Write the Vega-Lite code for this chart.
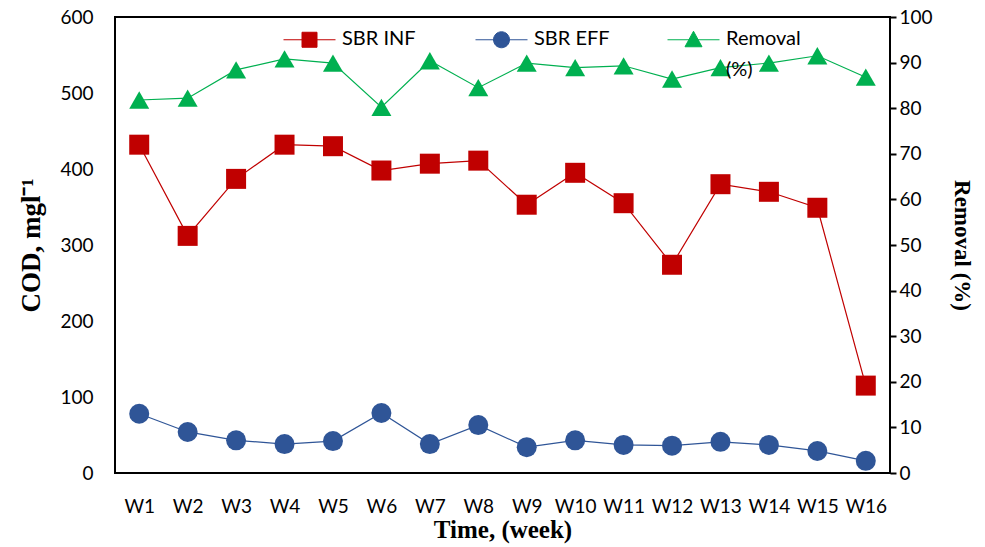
{
  "$schema": "https://vega.github.io/schema/vega-lite/v6.json",
  "width": 775,
  "height": 456,
  "autosize": "none",
  "padding": {"left": 115, "top": 17, "right": 95, "bottom": 74},
  "config": {
    "view": {"stroke": "black", "strokeWidth": 2},
    "font": "Lato",
    "axis": {"labelFont": "Lato", "labelFontSize": 19, "labelColor": "black", "titleFont": "Liberation Serif", "titleFontWeight": "bold", "titleFontSize": 25, "titleColor": "black", "grid": false}
  },
  "data": {
    "values": [
      {"week": "W1", "series": "SBR INF", "value": 432},
      {"week": "W2", "series": "SBR INF", "value": 312},
      {"week": "W3", "series": "SBR INF", "value": 387},
      {"week": "W4", "series": "SBR INF", "value": 432},
      {"week": "W5", "series": "SBR INF", "value": 430},
      {"week": "W6", "series": "SBR INF", "value": 398},
      {"week": "W7", "series": "SBR INF", "value": 407},
      {"week": "W8", "series": "SBR INF", "value": 411},
      {"week": "W9", "series": "SBR INF", "value": 353},
      {"week": "W10", "series": "SBR INF", "value": 395},
      {"week": "W11", "series": "SBR INF", "value": 355},
      {"week": "W12", "series": "SBR INF", "value": 274},
      {"week": "W13", "series": "SBR INF", "value": 380},
      {"week": "W14", "series": "SBR INF", "value": 370},
      {"week": "W15", "series": "SBR INF", "value": 349},
      {"week": "W16", "series": "SBR INF", "value": 115},
      {"week": "W1", "series": "SBR EFF", "value": 78},
      {"week": "W2", "series": "SBR EFF", "value": 54},
      {"week": "W3", "series": "SBR EFF", "value": 43},
      {"week": "W4", "series": "SBR EFF", "value": 38},
      {"week": "W5", "series": "SBR EFF", "value": 42},
      {"week": "W6", "series": "SBR EFF", "value": 79},
      {"week": "W7", "series": "SBR EFF", "value": 38},
      {"week": "W8", "series": "SBR EFF", "value": 63},
      {"week": "W9", "series": "SBR EFF", "value": 34},
      {"week": "W10", "series": "SBR EFF", "value": 43},
      {"week": "W11", "series": "SBR EFF", "value": 37},
      {"week": "W12", "series": "SBR EFF", "value": 36},
      {"week": "W13", "series": "SBR EFF", "value": 41},
      {"week": "W14", "series": "SBR EFF", "value": 37},
      {"week": "W15", "series": "SBR EFF", "value": 29},
      {"week": "W16", "series": "SBR EFF", "value": 16},
      {"week": "W1", "series": "Removal (%)", "value": 81.8},
      {"week": "W2", "series": "Removal (%)", "value": 82.2},
      {"week": "W3", "series": "Removal (%)", "value": 88.4},
      {"week": "W4", "series": "Removal (%)", "value": 90.8},
      {"week": "W5", "series": "Removal (%)", "value": 89.9},
      {"week": "W6", "series": "Removal (%)", "value": 80.2},
      {"week": "W7", "series": "Removal (%)", "value": 90.4},
      {"week": "W8", "series": "Removal (%)", "value": 84.5},
      {"week": "W9", "series": "Removal (%)", "value": 89.9},
      {"week": "W10", "series": "Removal (%)", "value": 88.9},
      {"week": "W11", "series": "Removal (%)", "value": 89.3},
      {"week": "W12", "series": "Removal (%)", "value": 86.4},
      {"week": "W13", "series": "Removal (%)", "value": 88.9},
      {"week": "W14", "series": "Removal (%)", "value": 89.9},
      {"week": "W15", "series": "Removal (%)", "value": 91.5},
      {"week": "W16", "series": "Removal (%)", "value": 86.8}
    ]
  },
  "encoding": {
    "x": {
      "field": "week", "type": "ordinal",
      "sort": ["W1","W2","W3","W4","W5","W6","W7","W8","W9","W10","W11","W12","W13","W14","W15","W16"],
      "scale": {"type": "point", "padding": 0.5},
      "axis": {"title": "Time, (week)", "labelAngle": 0, "ticks": false, "domain": false, "labelPadding": 24, "titlePadding": 1, "labelFlush": false}
    },
    "color": {
      "field": "series", "type": "nominal",
      "scale": {"domain": ["SBR INF", "SBR EFF", "Removal (%)"], "range": ["#c00000", "#2f5597", "#00b050"]},
      "legend": {
        "orient": "none", "legendX": 184, "legendY": 12, "direction": "horizontal", "columns": 3, "gridAlign": "all",
        "title": null, "padding": 0, "symbolSize": 400, "symbolStrokeWidth": 1,
        "labelFont": "Lato", "labelFontSize": 20, "labelColor": "black", "labelOffset": 22, "columnPadding": 55, "labelLimit": 300,
        "labelExpr": "['', datum.label == 'Removal (%)' ? 'Removal' : datum.label, datum.label == 'Removal (%)' ? '(%)' : '']",
        "encode": {
          "labels": {"update": {
            "lineHeight": {"value": 31},
            "dy": {"value": -32}
          }},
          "symbols": {"update": {
            "shape": {"signal": "datum.value == 'SBR INF' ? 'M-2.6,0H2.6M-0.75,-0.75H0.75V0.75H-0.75Z' : datum.value == 'SBR EFF' ? 'M-2.6,0H2.6M0.8,0A0.8,0.8,0,1,1,-0.8,0A0.8,0.8,0,1,1,0.8,0Z' : 'M-2.6,0H2.6M0,-0.85L0.85,0.7H-0.85Z'"},
            "fill": {"signal": "datum.value == 'SBR INF' ? '#c00000' : datum.value == 'SBR EFF' ? '#2f5597' : '#00b050'"},
            "stroke": {"signal": "datum.value == 'SBR INF' ? '#c00000' : datum.value == 'SBR EFF' ? '#2f5597' : '#00b050'"},
            "opacity": {"value": 1}
          }}
        }
      }
    }
  },
  "layer": [
    {
      "transform": [{"filter": "datum.series != 'Removal (%)'"}],
      "encoding": {
        "y": {"field": "value", "type": "quantitative", "scale": {"domain": [0, 600]},
          "axis": {"title": "COD, mgl\u207b\u00b9", "titleFontSize": 27, "values": [0,100,200,300,400,500,600], "ticks": false, "domain": false, "labelPadding": 22, "titlePadding": 14}}
      },
      "layer": [
        {"mark": {"type": "line", "strokeWidth": 1.2}},
        {"transform": [{"filter": "datum.series == 'SBR INF'"}], "mark": {"type": "point", "shape": "square", "filled": true, "opacity": 1, "size": 400}},
        {"transform": [{"filter": "datum.series == 'SBR EFF'"}], "mark": {"type": "point", "shape": "circle", "filled": true, "opacity": 1, "size": 400}}
      ]
    },
    {
      "transform": [{"filter": "datum.series == 'Removal (%)'"}],
      "encoding": {
        "y": {"field": "value", "type": "quantitative", "scale": {"domain": [0, 100]},
          "axis": {"orient": "right", "title": "Removal (%)", "titleFontSize": 23, "values": [0,10,20,30,40,50,60,70,80,90,100], "ticks": true, "tickSize": 6, "tickColor": "black", "tickWidth": 2, "domain": false, "labelPadding": 3, "titlePadding": 17}}
      },
      "layer": [
        {"mark": {"type": "line", "strokeWidth": 1.2}},
        {"mark": {"type": "point", "shape": "triangle-up", "filled": true, "opacity": 1, "size": 400}}
      ]
    }
  ],
  "resolve": {"scale": {"y": "independent"}}
}
